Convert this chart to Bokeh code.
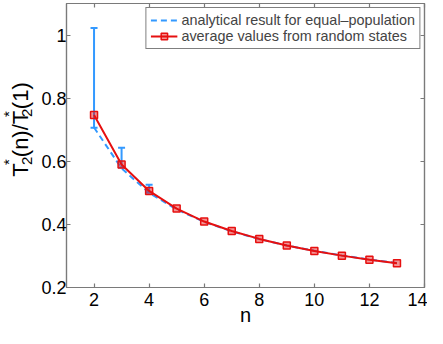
from math import pi
from bokeh.plotting import figure
from bokeh.layouts import row
from bokeh.models import (LinearAxis, FixedTicker, Legend, LegendItem,
                          Whisker, TeeHead, ColumnDataSource, Range1d)
from bokeh.core.properties import value
from bokeh.embed import file_html
from bokeh.resources import INLINE

# ---- data ----
n_vals = [2, 3, 4, 5, 6, 7, 8, 9, 10, 11, 12, 13]
analytic = [0.7071, 0.5774, 0.5000, 0.4472, 0.4082, 0.3780, 0.3536, 0.3333,
            0.3162, 0.3015, 0.2887, 0.2774]
average = [0.747, 0.590, 0.506, 0.450, 0.409, 0.379, 0.354, 0.333, 0.316,
           0.301, 0.288, 0.277]
err_n = [2, 3, 4]
err_upper = [1.022, 0.643, 0.526]
err_lower = [0.706, 0.580, 0.500]
x_ticks = [2, 4, 6, 8, 10, 12, 14]
y_ticks = [0.2, 0.4, 0.6, 0.8, 1.0]
x_label = "n"
# y label pieces: T*_2(n)/T*_2(1)
ylab_text = ["T", "*", "2", "(n)/T", "*", "2", "(1)"]

BLUE = "#3399ff"
RED = "#e61010"
GRAY = "#7a7a7a"
FONT = "Liberation Sans"
W, H = 427, 328
LW = 38  # width of the y-label strip

p = figure(width=W - LW, height=H, x_range=Range1d(1, 14), y_range=Range1d(0.2, 1.1),
           output_backend="svg", toolbar_location=None,
           min_border_left=25, min_border_right=3, min_border_top=3, min_border_bottom=30)
p.grid.visible = False
p.outline_line_color = GRAY
p.outline_line_width = 1.2
p.background_fill_color = "white"
p.border_fill_color = "white"

def style_axis(ax, ticks, show_labels):
    ax.ticker = FixedTicker(ticks=ticks)
    ax.major_tick_in = 4
    ax.major_tick_out = 0
    ax.minor_tick_line_color = None
    ax.axis_line_color = GRAY
    ax.axis_line_width = 1.2
    ax.major_tick_line_color = GRAY
    ax.major_tick_line_width = 1.2
    if show_labels:
        ax.major_label_text_font = FONT
        ax.major_label_text_font_size = "18px"
        ax.major_label_text_color = "black"
    else:
        ax.major_label_text_font_size = "1px"
        ax.major_label_text_color = None
        ax.major_label_standoff = 0

style_axis(p.xaxis[0], x_ticks, True)
style_axis(p.yaxis[0], y_ticks, True)
p.xaxis[0].major_label_standoff = 5
p.yaxis[0].major_label_standoff = 0
p.yaxis[0].major_label_overrides = {1: "1"}
p.xaxis[0].axis_label = x_label
p.xaxis[0].axis_label_text_font = FONT
p.xaxis[0].axis_label_text_font_size = "20px"
p.xaxis[0].axis_label_text_font_style = "normal"
p.xaxis[0].axis_label_text_color = "black"
p.xaxis[0].axis_label_standoff = -5

top_ax = LinearAxis()
style_axis(top_ax, x_ticks, False)
p.add_layout(top_ax, "above")
right_ax = LinearAxis()
style_axis(right_ax, y_ticks, False)
p.add_layout(right_ax, "right")

# error bars
err_src = ColumnDataSource(dict(n=err_n, upper=err_upper, lower=err_lower))
wh = Whisker(source=err_src, base="n", upper="upper", lower="lower",
             line_color=BLUE, line_width=2, level="underlay",
             upper_head=TeeHead(size=7, line_color=BLUE, line_width=2),
             lower_head=TeeHead(size=7, line_color=BLUE, line_width=2))
p.add_layout(wh)

src = ColumnDataSource(dict(n=n_vals, analytic=analytic, average=average))
r_an = p.line("n", "analytic", source=src, line_color=BLUE, line_width=2,
              line_dash="6 4")
r_av = p.line("n", "average", source=src, line_color=RED, line_width=2)
r_mk = p.scatter("n", "average", source=src, marker="square", size=7,
                 line_color=RED, line_width=1.5, fill_color=RED, fill_alpha=0.45)

legend = Legend(items=[
    LegendItem(label="analytical result for equal\u2013population", renderers=[r_an]),
    LegendItem(label="average values from random states", renderers=[r_av, r_mk]),
], location="top_right")
legend.label_text_font = FONT
legend.label_text_font_size = "14.4px"
legend.glyph_width = 27
legend.glyph_height = 16
legend.label_height = 16
legend.label_standoff = 4
legend.spacing = 0
legend.padding = 4
legend.margin = 4
legend.border_line_color = "black"
legend.border_line_width = 1
legend.background_fill_alpha = 1
p.add_layout(legend)

# ---- y-axis label strip: pixel coordinates (x from left, y from bottom) ----
ly = figure(width=LW, height=H, x_range=Range1d(0, LW), y_range=Range1d(0, H),
            output_backend="svg", toolbar_location=None,
            x_axis_location=None, y_axis_location=None,
            min_border_left=0, min_border_right=0, min_border_top=0, min_border_bottom=0)
ly.grid.visible = False
ly.outline_line_color = None
ly.background_fill_color = "white"
ly.border_fill_color = "white"

B = 20       # anchor line of the main text
Y0 = 128     # start of the label (from bottom)
lab_src = ColumnDataSource(dict(
    text=ylab_text,
    x=[B, B - 12, B + 6, B, B - 12, B + 6, B],
    y=[Y0, Y0 + 13.5, Y0 + 13.5, Y0 + 22.5, Y0 + 69, Y0 + 69, Y0 + 78],
    size=["22px", "15px", "15px", "22px", "15px", "15px", "22px"],
))
ly.text(x="x", y="y", text="text", source=lab_src, angle=pi / 2,
        text_font=value(FONT), text_font_size="size", text_color="black",
        text_baseline="alphabetic", text_align="left")

layout = row(ly, p, spacing=0)
open("out.html", "w").write(file_html(layout, INLINE))
